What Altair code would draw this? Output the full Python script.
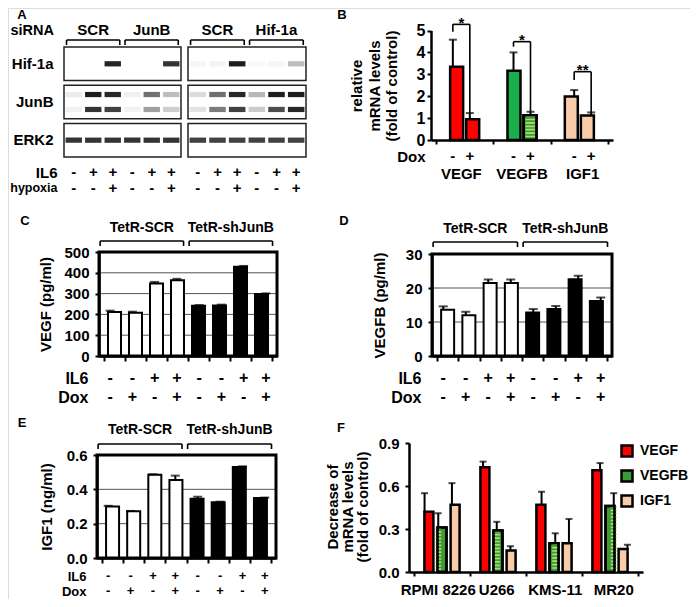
import altair as alt
import pandas as pd

FONT = "Liberation Sans"
W, H = 682, 591
M = 8

# ======================= DATA =======================
# --- Panel A: western blots (relative band intensity per lane, 0-1)
lanes = [1, 2, 3, 4, 5, 6]
proteins = ["Hif-1a", "JunB", "ERK2"]
il6_A = ["-", "+", "+", "-", "+", "+"]
hypoxia_A = ["-", "-", "+", "-", "-", "+"]
sirna_left = ["SCR", "JunB"]
sirna_right = ["SCR", "Hif-1a"]
hif_left = [0.0, 0.0, 0.92, 0.0, 0.0, 0.85]
hif_right = [0.04, 0.05, 0.95, 0.03, 0.04, 0.28]
junb_up_left = [0.08, 0.95, 0.9, 0.06, 0.6, 0.28]
junb_lo_left = [0.06, 0.85, 0.8, 0.05, 0.4, 0.2]
junb_up_right = [0.15, 0.6, 0.9, 0.3, 0.95, 0.95]
junb_lo_right = [0.12, 0.55, 0.8, 0.22, 0.75, 0.9]
erk_left = [0.85, 0.85, 0.85, 0.85, 0.85, 0.85]
erk_right = [0.8, 0.8, 0.8, 0.8, 0.8, 0.8]

# --- Panel B
genes = ["VEGF", "VEGFB", "IGF1"]
b_minus = [3.35, 3.16, 1.99]
b_minus_err = [1.23, 0.84, 0.29]
b_plus = [0.95, 1.13, 1.12]
b_plus_err = [0.28, 0.16, 0.14]
sig_labels = ["*", "*", "**"]
sig_top = [5.28, 4.49, 3.12]
sig_left_end = [4.94, 4.26, 2.74]
b_title = ["relative", "mRNA levels", "(fold of control)"]

# --- Panels C-E
il6_row = ["-", "-", "+", "+", "-", "-", "+", "+"]
dox_row = ["-", "+", "-", "+", "-", "+", "-", "+"]
groups = ["TetR-SCR", "TetR-shJunB"]
vegf_c = [212, 208, 349, 364, 241, 243, 429, 298]
vegf_c_err = [6, 5, 7, 7, 4, 4, 4, 3]
vegfb_d = [13.6, 12.0, 21.5, 21.5, 12.8, 13.8, 22.6, 16.2]
vegfb_d_err = [1.0, 1.0, 1.0, 1.0, 1.0, 0.9, 1.0, 1.0]
igf1_e = [0.30, 0.272, 0.485, 0.455, 0.345, 0.325, 0.53, 0.35]
igf1_e_err = [0.004, 0.002, 0.003, 0.025, 0.012, 0.003, 0.004, 0.002]

# --- Panel F
cell_lines = ["RPMI 8226", "U266", "KMS-11", "MR20"]
f_vegf = [0.42, 0.73, 0.47, 0.71]
f_vegf_err = [0.13, 0.04, 0.09, 0.05]
f_vegfb = [0.31, 0.29, 0.20, 0.46]
f_vegfb_err = [0.10, 0.06, 0.07, 0.09]
f_igf1 = [0.47, 0.15, 0.20, 0.16]
f_igf1_err = [0.15, 0.03, 0.17, 0.03]
f_title = ["Decrease of", "mRNA levels", "(fold of control)"]

# ======================= STYLE =======================
RED = "#ff0000"
GREEN = "#1aaf4b"
GREEN_DARK = "#3d9b35"
GREEN_LIGHT = "#a8e070"
PEACH = "#f8cba9"


def P(v):
    return v - M


def lin(domain, a, b):
    return alt.Scale(domain=domain, range=[P(a), P(b)], nice=False, zero=False)


def pts(domain, a, b):
    return alt.Scale(type="point", domain=domain, range=[P(a), P(b)], padding=0)


AX = dict(domainColor="black", tickColor="black", labelColor="black", titleColor="black",
          labelFont=FONT, titleFont=FONT, labelFontWeight="bold", titleFontWeight="bold",
          grid=False)


def value_axis(axis_x, values, title, tcx, tcy, size=15, pad=6):
    kw = dict(orient="left", offset=-P(axis_x), values=values, tickSize=4, tickWidth=2,
              domainWidth=2.5, labelFontSize=size, labelPadding=pad, labelOverlap=False, **AX)
    if title:
        kw.update(title=title, titleFontSize=15, titleX=tcx - axis_x, titleY=P(tcy),
                  titleAngle=270, titleAlign="center", titleBaseline="middle")
    else:
        kw.update(title=None)
    return alt.Axis(**kw)


def boundary_axis(axis_y, values, tick=5):
    return alt.Axis(orient="bottom", offset=P(axis_y) - H, values=values, labels=False,
                    tickSize=tick, tickWidth=2, domainWidth=2.5, title=None, **AX)


def row_label_axis(axis_x, pad, size=16, expr=None):
    kw = dict(orient="left", offset=-P(axis_x), domain=False, ticks=False, labelPadding=pad,
              labelFontSize=size, title=None, **AX)
    if expr:
        kw["labelExpr"] = expr
    return alt.Axis(**kw)


def T(size, **kw):
    d = dict(font=FONT, fontWeight="bold", color="black", fontSize=size)
    d.update(kw)
    return d


def rotated_title(sx, sy, xd, yd, ax_px, ay_px, lines, xs_px, cy_px, size=15):
    """Multi-line vertical axis title, one text mark per line, anchored to the panel scales."""
    out = []
    for line, lx in zip(lines, xs_px):
        out.append(alt.Chart(pd.DataFrame({"label": [line]})).mark_text(
            angle=270, align="center", baseline="middle",
            xOffset=lx - ax_px, yOffset=cy_px - ay_px, **T(size)).encode(
            x=alt.XDatum(xd, scale=sx, axis=None), y=alt.YDatum(yd, scale=sy, axis=None),
            text="label:N"))
    return out


def header(sx, labels, firsts, lasts, dl, dr, leg_y, top_y, text_dy, size, extras=()):
    sy = lin([0, 1], leg_y, top_y)
    df = pd.DataFrame({"label": labels, "first": firsts, "last": lasts})
    base = alt.Chart(df).transform_calculate(
        xl=f"datum.first - {dl}", xr=f"datum.last + {dr}",
        xc=f"(datum.first - {dl} + datum.last + {dr}) / 2")
    line = base.mark_rule(color="black", strokeWidth=1.6).encode(
        x=alt.X("xl:Q", scale=sx, axis=None), x2="xr:Q",
        y=alt.YDatum(1, scale=sy, axis=None))
    legs = base.transform_fold(["xl", "xr"], as_=["side", "xp"]).mark_rule(
        color="black", strokeWidth=1.6).encode(
        x=alt.X("xp:Q", scale=sx, axis=None), y=alt.YDatum(0, scale=sy, axis=None),
        y2=alt.Y2Datum(1))
    text = base.mark_text(baseline="alphabetic", dy=text_dy, **T(size)).encode(
        x=alt.X("xc:Q", scale=sx, axis=None), y=alt.YDatum(1, scale=sy, axis=None),
        text="label:N")
    layers = [line, legs, text]
    for (label, xd, dx, dy, align, fsize, baseline) in extras:
        layers.append(alt.Chart(pd.DataFrame({"label": [label]})).mark_text(
            align=align, baseline=baseline, dx=dx, dy=dy, **T(fsize)).encode(
            x=alt.XDatum(xd, scale=sx, axis=None), y=alt.YDatum(1, scale=sy, axis=None),
            text="label:N"))
    return layers


def cond_table(sx, rows, positions, signs_by_row, centers, axis_x=None, pad=11, size=16):
    recs = []
    for r, signs in zip(rows, signs_by_row):
        for p, s in zip(positions, signs):
            recs.append({"pos": p, "row": r, "sign": s})
    sy = pts(rows, centers[0], centers[1])
    ax = row_label_axis(axis_x, pad, size) if axis_x is not None else None
    return alt.Chart(pd.DataFrame(recs)).mark_text(baseline="middle", **T(size)).encode(
        x=alt.X("pos:Q", scale=sx, axis=None), y=alt.Y("row:N", scale=sy, axis=ax),
        text="sign:N")


# ======================= PANEL A =======================
def blot(x0, x1, hif, jup, jlo, erk, show_labels):
    sx = lin([0.5, 6.5], x0, x1)
    sy = alt.Scale(domain=proteins, range=[P(47), P(157)], paddingInner=0.12, paddingOuter=0)
    rec = []
    for i, ln in enumerate(lanes):
        rec.append(dict(lane=ln, protein="Hif-1a", iso="mid", level=hif[i]))
        rec.append(dict(lane=ln, protein="JunB", iso="upper", level=jup[i]))
        rec.append(dict(lane=ln, protein="JunB", iso="lower", level=jlo[i]))
        rec.append(dict(lane=ln, protein="ERK2", iso="mid", level=erk[i]))
    bands = alt.Chart(pd.DataFrame(rec)).transform_calculate(
        lo="datum.lane - 0.42", hi="datum.lane + 0.42").mark_bar(color="#111").encode(
        x=alt.X("lo:Q", scale=sx, axis=None), x2="hi:Q",
        y=alt.Y("protein:N", scale=sy, axis=None),
        yOffset=alt.YOffset("iso:N", scale=alt.Scale(domain=["upper", "mid", "lower"],
                                                    paddingInner=0.3, paddingOuter=0.9)),
        opacity=alt.Opacity("level:Q", scale=alt.Scale(domain=[0, 1], range=[0, 1]),
                            legend=None))
    yax = row_label_axis(x0, 11, 15) if show_labels else None
    frame = alt.Chart(pd.DataFrame({"protein": proteins})).mark_bar(
        fillOpacity=0, stroke="#222", strokeWidth=1.5).encode(
        x=alt.XDatum(0.5, scale=sx, axis=None), x2=alt.X2Datum(6.5),
        y=alt.Y("protein:N", scale=sy, axis=yax))
    recs = []
    for r, signs in zip(["IL6", "hypoxia"], [il6_A, hypoxia_A]):
        for p, s in zip(lanes, signs):
            recs.append({"pos": p, "row": r, "sign": s})
    cax = None
    if show_labels:
        cax = alt.Axis(orient="left", offset=-P(x0), domain=False, ticks=False, labelPadding=7,
                       labelFontSize={"condition": {"test": "datum.value == 'hypoxia'", "value": 12.5},
                                      "value": 15},
                       title=None, **AX)
    cond = alt.Chart(pd.DataFrame(recs)).mark_text(baseline="middle", **T(15)).encode(
        x=alt.X("pos:Q", scale=sx, axis=None),
        y=alt.Y("row:N", scale=pts(["IL6", "hypoxia"], 172, 187.5), axis=cax),
        text="sign:N")
    return sx, [bands, frame, cond]


sxAL, A_left = blot(64, 181, hif_left, junb_up_left, junb_lo_left, erk_left, True)
sxAR, A_right = blot(188, 306, hif_right, junb_up_right, junb_lo_right, erk_right, False)
A_head_left = header(sxAL, sirna_left, [1, 4], [3, 6], 0.37, 0.36, 45, 40, -5, 15,
                     extras=[("siRNA", 0.5, -10, -5, "right", 14.5, "alphabetic"),
                             ("A", 0.5, 22 - 64, 15 - 40, "center", 13, "middle")])
A_head_right = header(sxAR, sirna_right, [1, 4], [3, 6], 0.37, 0.36, 45, 40, -5, 15)

# ======================= PANEL B =======================
sxB = lin([-0.5, 2.5], 431, 613)
syB = lin([0, 5], 140, 30.5)
b_rec = []
for gi, g in enumerate(genes):
    b_rec.append(dict(idx=gi, gene=g, dox="-", key=g + "-", value=b_minus[gi], err=b_minus_err[gi]))
    b_rec.append(dict(idx=gi, gene=g, dox="+", key=g + "+", value=b_plus[gi], err=b_plus_err[gi]))
b_keys = [r["key"] for r in b_rec]
b_colors = [RED, RED, GREEN, GREEN_DARK, PEACH, PEACH]
DB = 0.14
bbase = alt.Chart(pd.DataFrame(b_rec)).transform_calculate(
    xpos=f"datum.idx + (datum.dox == '+' ? {DB} : -{DB})", top="datum.value + datum.err")
b_bars = bbase.mark_bar(size=13, stroke="black", strokeWidth=2.5).encode(
    x=alt.X("xpos:Q", scale=sxB, axis=boundary_axis(140, [-0.5, 0.5, 1.5, 2.5], tick=4)),
    y=alt.Y("value:Q", scale=syB, axis=value_axis(431, [0, 1, 2, 3, 4, 5], None, 0, 0, size=16, pad=2)),
    color=alt.Color("key:N", scale=alt.Scale(domain=b_keys, range=b_colors), legend=None))
b_striped = bbase.transform_filter("datum.key == 'VEGFB+'")
b_stripes = b_striped.mark_rule(color=GREEN_LIGHT, strokeWidth=10, strokeDash=[1.7, 1.7]).encode(
    x=alt.X("xpos:Q", scale=sxB, axis=None), y=alt.Y("value:Q", scale=syB, axis=None),
    y2=alt.Y2Datum(0))
b_outline = b_striped.mark_bar(size=13, fillOpacity=0, stroke="black", strokeWidth=2.5).encode(
    x=alt.X("xpos:Q", scale=sxB, axis=None), y=alt.Y("value:Q", scale=syB, axis=None))
b_err = bbase.mark_rule(color="black", strokeWidth=2).encode(
    x=alt.X("xpos:Q", scale=sxB, axis=None), y=alt.Y("value:Q", scale=syB, axis=None), y2="top:Q")
b_cap = bbase.mark_tick(orient="horizontal", size=8, thickness=2, color="black").encode(
    x=alt.X("xpos:Q", scale=sxB, axis=None), y=alt.Y("top:Q", scale=syB, axis=None))
sig_df = pd.DataFrame({"idx": [0, 1, 2], "label": sig_labels, "top": sig_top, "lend": sig_left_end,
                       "rend": [p + e for p, e in zip(b_plus, b_plus_err)]})
sbase = alt.Chart(sig_df).transform_calculate(xl=f"datum.idx - {DB}", xr=f"datum.idx + {DB}")
s_h = sbase.mark_rule(color="black", strokeWidth=1.6).encode(
    x=alt.X("xl:Q", scale=sxB, axis=None), x2="xr:Q", y=alt.Y("top:Q", scale=syB, axis=None))
s_l = sbase.mark_rule(color="black", strokeWidth=1.6).encode(
    x=alt.X("xl:Q", scale=sxB, axis=None), y=alt.Y("lend:Q", scale=syB, axis=None), y2="top:Q")
s_r = sbase.mark_rule(color="black", strokeWidth=1.6).encode(
    x=alt.X("xr:Q", scale=sxB, axis=None), y=alt.Y("rend:Q", scale=syB, axis=None), y2="top:Q")
s_t = sbase.mark_text(baseline="alphabetic", dy=3.5, **T(15)).encode(
    x=alt.X("idx:Q", scale=sxB, axis=None), y=alt.Y("top:Q", scale=syB, axis=None), text="label:N")
b_letter = alt.Chart(pd.DataFrame({"label": ["B"]})).mark_text(
    baseline="middle", dx=342 - 431, dy=15 - 30.5, **T(13)).encode(
    x=alt.XDatum(-0.5, scale=sxB, axis=None), y=alt.YDatum(5, scale=syB, axis=None), text="label:N")
b_titles = rotated_title(sxB, syB, -0.5, 0, 431, 140, b_title, [357, 375, 392], 86)

syBc = pts(["Dox", "gene"], 156, 174)
b_dox = bbase.transform_calculate(row="'Dox'").mark_text(baseline="middle", **T(15)).encode(
    x=alt.X("xpos:Q", scale=sxB, axis=None),
    y=alt.Y("row:N", scale=syBc,
            axis=row_label_axis(431, 6, 15, expr="datum.value == 'gene' ? '' : datum.label")),
    text="dox:N")
b_gene = alt.Chart(pd.DataFrame({"idx": [0, 1, 2], "gene": genes, "row": ["gene"] * 3})).mark_text(
    baseline="middle", **T(15)).encode(
    x=alt.X("idx:Q", scale=sxB, axis=None), y=alt.Y("row:N", scale=syBc, axis=None), text="gene:N")
B_parts = [b_bars, b_stripes, b_outline, b_err, b_cap, s_h, s_l, s_r, s_t, b_letter, b_dox,
           b_gene] + b_titles


# ======================= PANELS C-E =======================
def tet_panel(values, errs, ymax, ticks, title, x0, x1, y0, y1, tcx, head, cond_y, letter,
              cond_size=16):
    sx = lin([0.5, 8.5], x0, x1)
    sy = lin([0, ymax], y0, y1)
    df = pd.DataFrame({"bar": list(range(1, 9)), "value": values, "err": errs,
                       "group": [groups[0]] * 4 + [groups[1]] * 4})
    base = alt.Chart(df).transform_calculate(top="datum.value + datum.err")
    grid = alt.Chart(pd.DataFrame({"tick": ticks[1:-1]})).mark_rule(color="#555", strokeWidth=1).encode(
        x=alt.XDatum(0.5, scale=sx, axis=None), x2=alt.X2Datum(8.5),
        y=alt.Y("tick:Q", scale=sy, axis=None))
    bars = base.mark_bar(size=13, stroke="black", strokeWidth=2).encode(
        x=alt.X("bar:Q", scale=sx, axis=boundary_axis(y0, [i + 0.5 for i in range(9)])),
        y=alt.Y("value:Q", scale=sy, axis=value_axis(x0, ticks, title, tcx, (y0 + y1) / 2)),
        color=alt.Color("group:N", scale=alt.Scale(domain=groups, range=["white", "black"]),
                        legend=None))
    err = base.mark_rule(color="black", strokeWidth=2).encode(
        x=alt.X("bar:Q", scale=sx, axis=None), y=alt.Y("value:Q", scale=sy, axis=None), y2="top:Q")
    cap = base.mark_tick(orient="horizontal", size=9, thickness=2, color="black").encode(
        x=alt.X("bar:Q", scale=sx, axis=None), y=alt.Y("top:Q", scale=sy, axis=None))
    frame = alt.Chart(pd.DataFrame({"k": [0]})).mark_rect(filled=False, color="black", strokeWidth=3).encode(
        x=alt.XDatum(0.5, scale=sx, axis=None), x2=alt.X2Datum(8.5),
        y=alt.YDatum(0, scale=sy, axis=None), y2=alt.Y2Datum(ymax))
    cond = cond_table(sx, ["IL6", "Dox"], list(range(1, 9)), [il6_row, dox_row], cond_y,
                      axis_x=x0, pad=11, size=cond_size)
    leg_y, top_y, tdy = head
    lt, lx, ly = letter
    hd = header(sx, groups, [1, 5], [4, 8], 0.45, 0.3, leg_y, top_y, tdy, 14,
                extras=[(lt, 0.5, lx - x0, ly - top_y, "center", 13, "middle")])
    return [grid, bars, err, cap, frame, cond] + hd


C_parts = tet_panel(vegf_c, vegf_c_err, 500, [0, 100, 200, 300, 400, 500], "VEGF (pg/ml)",
                    99, 277, 356, 252, 45, (246, 241, -9), (378, 397), ("C", 25, 221))
D_parts = tet_panel(vegfb_d, vegfb_d_err, 30, [0, 10, 20, 30], "VEGFB (pg/ml)",
                    432, 612, 356, 254, 379, (247, 242, -9), (378, 397), ("D", 344, 221))
E_parts = tet_panel(igf1_e, igf1_e_err, 0.6, [0, 0.2, 0.4, 0.6], "IGF1 (ng/ml)",
                    97, 276, 558, 455, 46, (449, 444, -10), (576, 591), ("E", 22, 423),
                    cond_size=13)

# ======================= PANEL F =======================
sxF = lin([-0.5, 3.5], 409, 643)
syF = lin([0, 0.9], 572, 443)
f_rec = []
for ci, c in enumerate(cell_lines):
    for gi, (g, vals, errs) in enumerate(zip(genes, [f_vegf, f_vegfb, f_igf1],
                                             [f_vegf_err, f_vegfb_err, f_igf1_err])):
        f_rec.append(dict(ci=ci, gi=gi, cell=c, gene=g, value=vals[ci], err=errs[ci]))
DF_ = 0.234
fbase = alt.Chart(pd.DataFrame(f_rec)).transform_calculate(
    xpos=f"datum.ci + (datum.gi - 1) * {DF_}", top="datum.value + datum.err")
f_bars = fbase.mark_bar(size=9, stroke="black", strokeWidth=2.5).encode(
    x=alt.X("xpos:Q", scale=sxF, axis=boundary_axis(572, [-0.5, 0.5, 1.5, 2.5, 3.5], tick=4)),
    y=alt.Y("value:Q", scale=syF, axis=value_axis(409, [0, 0.3, 0.6, 0.9], None, 0, 0, size=15, pad=6)),
    color=alt.Color("gene:N", scale=alt.Scale(domain=genes, range=[RED, GREEN_DARK, PEACH]),
                    legend=alt.Legend(orient="none", legendX=P(620), legendY=P(444), title=None,
                                      symbolType="square", symbolSize=121, symbolStrokeColor="black",
                                      symbolStrokeWidth=2.5, symbolOpacity=1, labelFont=FONT,
                                      labelFontSize=14, labelFontWeight="bold", labelColor="black",
                                      labelOffset=6, rowPadding=3, padding=0)))
f_striped = fbase.transform_filter("datum.gene == 'VEGFB'")
f_stripes = f_striped.mark_rule(color=GREEN_LIGHT, strokeWidth=6, strokeDash=[1.7, 1.7]).encode(
    x=alt.X("xpos:Q", scale=sxF, axis=None), y=alt.Y("value:Q", scale=syF, axis=None), y2=alt.Y2Datum(0))
f_outline = f_striped.mark_bar(size=9, fillOpacity=0, stroke="black", strokeWidth=2.5).encode(
    x=alt.X("xpos:Q", scale=sxF, axis=None), y=alt.Y("value:Q", scale=syF, axis=None))
f_err = fbase.mark_rule(color="black", strokeWidth=2).encode(
    x=alt.X("xpos:Q", scale=sxF, axis=None), y=alt.Y("value:Q", scale=syF, axis=None), y2="top:Q")
f_cap = fbase.mark_tick(orient="horizontal", size=7, thickness=2, color="black").encode(
    x=alt.X("xpos:Q", scale=sxF, axis=None), y=alt.Y("top:Q", scale=syF, axis=None))
f_letter = alt.Chart(pd.DataFrame({"label": ["F"]})).mark_text(
    baseline="middle", dx=341 - 409, dy=428 - 443, **T(13)).encode(
    x=alt.XDatum(-0.5, scale=sxF, axis=None), y=alt.YDatum(0.9, scale=syF, axis=None), text="label:N")
F_cells = alt.Chart(pd.DataFrame({"ci": [0, 1, 2, 3], "cell": cell_lines, "row": ["cell"] * 4})).mark_text(
    baseline="middle", **T(15)).encode(
    x=alt.X("ci:Q", scale=sxF, axis=None), y=alt.Y("row:N", scale=pts(["cell"], 589, 591), axis=None),
    text="cell:N")
f_titles = rotated_title(sxF, syF, -0.5, 0, 409, 572, f_title, [333, 348, 363], 507)
F_parts = [f_bars, f_stripes, f_outline, f_err, f_cap, f_letter, F_cells] + f_titles

# ======================= ASSEMBLE =======================
children = (A_left + A_right + A_head_left + A_head_right + B_parts + C_parts + D_parts
            + E_parts + F_parts)

chart = alt.layer(*children).resolve_scale(
    x="independent", y="independent", color="independent", opacity="independent",
    yOffset="independent", xOffset="independent"
).resolve_axis(x="independent", y="independent").properties(
    width=W, height=H, autosize=alt.AutoSizeParams(type="none"), padding=0
).configure_view(stroke=None).configure(background="white")

chart.save("out.html", embed_options={"renderer": "svg", "actions": False})
